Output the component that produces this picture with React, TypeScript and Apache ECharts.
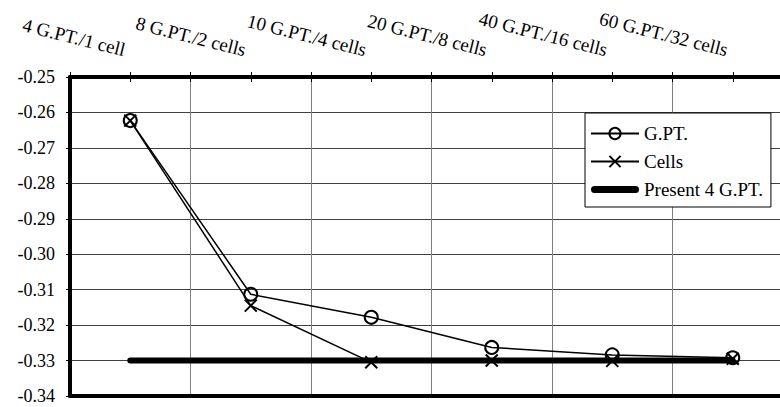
import React, { useEffect, useRef } from 'react';
import * as echarts from 'echarts';

const categories = [
  '4 G.PT./1 cell',
  '8 G.PT./2 cells',
  '10 G.PT./4 cells',
  '20 G.PT./8 cells',
  '40 G.PT./16 cells',
  '60 G.PT./32 cells',
];
const gptValues = [-0.2623, -0.3113, -0.3178, -0.3263, -0.3284, -0.3292];
const cellsValues = [-0.2623, -0.3145, -0.3305, -0.33, -0.3301, -0.3295];
const present4Values = [-0.33, -0.33, -0.33, -0.33, -0.33, -0.33];
const seriesNames = ['G.PT.', 'Cells', 'Present 4 G.PT.'];
const yMin = -0.34;
const yMax = -0.25;
const yStep = 0.01;

const FONT = 'Liberation Serif';
const CROSS = 'path://M0,0L10,10M10,0L0,10';
// thick rounded bar, vertically centred in a 48x14 icon box
const THICK_BAR = 'path://M0,0L0,0M48,14L48,14M3.5,3.5L44.5,3.5A3.5,3.5 0 0 1 44.5,10.5L3.5,10.5A3.5,3.5 0 0 1 3.5,3.5Z';

export default function App() {
  const ref = useRef<HTMLDivElement>(null);

  useEffect(() => {
    if (!ref.current) return;
    const chart = echarts.init(ref.current, undefined, { renderer: 'svg' });

    const topLabels: string[] = [];
    categories.forEach((c) => {
      topLabels.push(c);
      topLabels.push('');
    });
    topLabels.push('');

    const option: any = {
      animation: false,
      backgroundColor: '#fff',
      textStyle: { fontFamily: FONT, color: '#000' },
      grid: [
        { left: 70, top: 77, width: 723, height: 319, outerBoundsMode: 'none', containLabel: false },
        { left: 125, top: 77, width: 723, height: 319, outerBoundsMode: 'none', containLabel: false },
      ],
      legend: {
        left: 585,
        top: 113,
        orient: 'vertical',
        itemWidth: 48,
        itemHeight: 14,
        itemGap: 9,
        padding: [11, 8, 8, 5],
        borderColor: '#000',
        borderWidth: 1,
        backgroundColor: '#fff',
        selectedMode: false,
        textStyle: { fontFamily: FONT, fontSize: 19, color: '#000' },
        data: [
          { name: seriesNames[0] },
          { name: seriesNames[1] },
          { name: seriesNames[2], icon: THICK_BAR, itemStyle: { color: '#000' } },
        ],
      },
      xAxis: [
        {
          type: 'category',
          gridIndex: 0,
          position: 'bottom',
          data: categories,
          boundaryGap: true,
          axisLine: { onZero: false, lineStyle: { color: '#000', width: 4 } },
          axisTick: { show: false },
          axisLabel: { show: false },
          splitLine: { show: true, interval: 0, lineStyle: { color: '#808080', width: 1 } },
        },
        {
          type: 'value',
          gridIndex: 0,
          position: 'top',
          min: 0,
          max: 12,
          interval: 1,
          axisLine: { show: true, onZero: false, lineStyle: { color: '#000', width: 4 } },
          axisTick: { show: true, length: 5, lineStyle: { color: '#000', width: 1 } },
          axisLabel: { show: false },
          splitLine: { show: false },
        },
        {
          type: 'value',
          gridIndex: 0,
          position: 'top',
          min: 0,
          max: 12,
          interval: 1,
          axisLine: { show: false, onZero: false },
          axisTick: { show: true, inside: true, length: 5, lineStyle: { color: '#000', width: 1 } },
          axisLabel: { show: false },
          splitLine: { show: false },
        },
        {
          type: 'category',
          gridIndex: 1,
          position: 'top',
          data: topLabels,
          boundaryGap: false,
          axisLine: { show: false, onZero: false },
          axisTick: { show: false },
          splitLine: { show: false },
          axisLabel: {
            interval: 0,
            rotate: 14,
            align: 'right',
            verticalAlign: 'middle',
            margin: 27,
            fontFamily: FONT,
            fontSize: 19,
            color: '#000',
          },
        },
      ],
      yAxis: [
        {
          type: 'value',
          gridIndex: 0,
          min: yMin,
          max: yMax,
          interval: yStep,
          axisLine: { show: true, onZero: false, lineStyle: { color: '#000', width: 4 } },
          axisTick: { show: true, length: 4, lineStyle: { color: '#000', width: 1 } },
          axisLabel: {
            formatter: (v: number) => v.toFixed(2),
            fontFamily: FONT,
            fontSize: 18,
            color: '#000',
            margin: 15,
          },
          splitLine: { show: true, lineStyle: { color: '#404040', width: 1 } },
        },
        { type: 'value', gridIndex: 1, show: false, min: yMin, max: yMax },
      ],
      series: [
        {
          name: seriesNames[2],
          type: 'line',
          xAxisIndex: 0,
          yAxisIndex: 0,
          data: present4Values,
          symbol: 'none',
          lineStyle: { color: '#000', width: 6, cap: 'round' },
          itemStyle: { color: '#000' },
          z: 2,
        },
        {
          name: seriesNames[0],
          type: 'line',
          xAxisIndex: 0,
          yAxisIndex: 0,
          data: gptValues,
          symbol: 'circle',
          symbolSize: 13,
          lineStyle: { color: '#000', width: 1.5 },
          itemStyle: { color: 'rgba(0,0,0,0)', borderColor: '#000', borderWidth: 2 },
          z: 3,
        },
        {
          name: seriesNames[1],
          type: 'line',
          xAxisIndex: 0,
          yAxisIndex: 0,
          data: cellsValues,
          symbol: CROSS,
          symbolSize: 12,
          lineStyle: { color: '#000', width: 1.5 },
          itemStyle: { color: '#000', borderColor: '#000', borderWidth: 2 },
          z: 4,
        },
      ],
    };

    chart.setOption(option);
    return () => chart.dispose();
  }, []);

  return (
    <div
      ref={ref}
      style={{ position: 'fixed', left: 0, top: 0, width: 780, height: 407 }}
    />
  );
}
